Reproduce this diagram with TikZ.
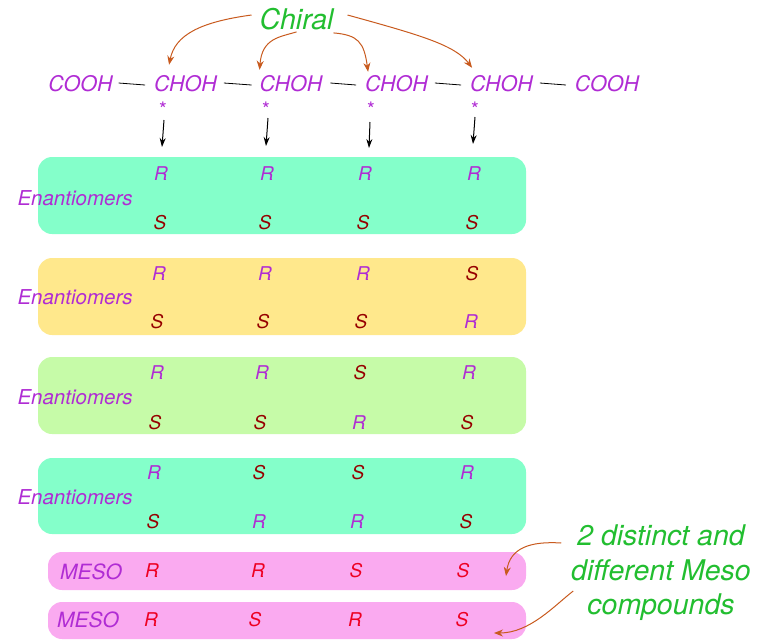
\documentclass[tikz,border=0pt]{standalone}
\usepackage{fontspec}
\setmainfont{TeX Gyre Heros}
\usetikzlibrary{arrows.meta}
\definecolor{pur}{RGB}{176,44,212}
\definecolor{dred}{RGB}{150,0,0}
\definecolor{mred}{RGB}{238,0,34}
\definecolor{grn}{RGB}{34,190,48}
\definecolor{brn}{RGB}{200,90,30}
\definecolor{aquabox}{RGB}{132,255,202}
\definecolor{yelbox}{RGB}{255,232,140}
\definecolor{lgrnbox}{RGB}{198,251,168}
\definecolor{pinkbox}{RGB}{250,170,240}
\begin{document}
\begin{tikzpicture}[x=1pt,y=-1pt,
  every node/.style={inner sep=0pt,outer sep=0pt},
  chainlbl/.style={font=\fontsize{21.5}{25}\selectfont\itshape,text=pur},
  ast/.style={font=\fontsize{20}{22}\selectfont,text=pur},
  chiral/.style={font=\fontsize{28.5}{34.5}\selectfont\itshape,text=grn,align=center},
  rowbox/.style={rectangle,rounded corners=14pt,draw=none,minimum width=488pt,minimum height=77pt},
  mesobox/.style={rectangle,rounded corners=14pt,draw=none,minimum width=478pt,minimum height=38pt},
  enlbl/.style={font=\fontsize{20.5}{24}\selectfont\itshape,text=pur},
  mesolbl/.style={font=\fontsize{21}{24}\selectfont\itshape,text=pur},
  pR/.style={font=\fontsize{19}{22}\selectfont\itshape,text=pur},
  dS/.style={font=\fontsize{19}{22}\selectfont\itshape,text=dred},
  mL/.style={font=\fontsize{19}{22}\selectfont\itshape,text=mred},
  bond/.style={draw=black,line width=0.8pt},
  blk/.style={draw=black,line width=1pt,-{Stealth[length=9pt,width=6pt]}},
  brnarr/.style={draw=brn,line width=1pt,-{Stealth[length=9pt,width=7pt]}}
]
\useasboundingbox (0,0) rectangle (770,641);

% boxes
\node[rowbox,fill=aquabox] (b1) at (282,195.5) {};
\node[rowbox,fill=yelbox] (b2) at (282,296.5) {};
\node[rowbox,fill=lgrnbox] (b3) at (282,395.5) {};
\node[rowbox,fill=aquabox,minimum height=76pt] (b4) at (282,496) {};
\node[mesobox,fill=pinkbox] (m1) at (287,571) {};
\node[mesobox,fill=pinkbox,minimum height=37pt] (m2) at (287,620.5) {};

% chain
\node[chainlbl] (c0) at (80.5,84) {COOH};
\node[chainlbl] (c1) at (185.5,84) {CHOH};
\node[chainlbl] (c2) at (291,84) {CHOH};
\node[chainlbl] (c3) at (396.5,84) {CHOH};
\node[chainlbl] (c4) at (501.5,84) {CHOH};
\node[chainlbl] (c5) at (607,84) {COOH};
\draw[bond] ([shift={(6,-1)}]c0.east) -- ([shift={(-9,1)}]c1.west);
\draw[bond] ([shift={(7,-1)}]c1.east) -- ([shift={(-8,1)}]c2.west);
\draw[bond] ([shift={(8,-1)}]c2.east) -- ([shift={(-9,1)}]c3.west);
\draw[bond] ([shift={(7,-1)}]c3.east) -- ([shift={(-9,1)}]c4.west);
\draw[bond] ([shift={(7,-1)}]c4.east) -- ([shift={(-9,1)}]c5.west);

% asterisks
\node[ast] (a1) at (163,109) {*};
\node[ast] (a2) at (266,109) {*};
\node[ast] (a3) at (371,109) {*};
\node[ast] (a4) at (475,109) {*};
\coordinate (e1) at (162,147);
\coordinate (e2) at (266,146);
\coordinate (e3) at (369,148);
\coordinate (e4) at (473,144);
\draw[blk] ([shift={(1,11)}]a1.center) -- (e1);
\draw[blk] ([shift={(2,9)}]a2.center) -- (e2);
\draw[blk] ([shift={(-1,13)}]a3.center) -- (e3);
\draw[blk] ([shift={(0,8)}]a4.center) -- (e4);

% Chiral
\node[chiral] (ch) at (296.5,19) {Chiral};
\draw[brnarr] ([shift={(-8,-4)}]ch.west) .. controls (200,22) and (175,35) .. ([shift={(15,-11)}]c1.north west);
\draw[brnarr] ([shift={(0,2)}]ch.south) .. controls (280,37) and (262,38) .. ([shift={(0,-6)}]c2.north west);
\draw[brnarr] ([shift={(0,3)}]ch.south east) .. controls (358,35) and (364,42) .. ([shift={(3,-4)}]c3.north west);
\draw[brnarr] ([shift={(14,-4)}]ch.east) .. controls (420,35) and (455,45) .. ([shift={(2,-8)}]c4.north west);

% labels
\node[enlbl] (l1) at (75,198) {Enantiomers};
\node[enlbl] (l2) at (75,297) {Enantiomers};
\node[enlbl] (l3) at (75,397) {Enantiomers};
\node[enlbl] (l4) at (75,497) {Enantiomers};
\node[mesolbl] (ml1) at (91,572) {MESO};
\node[mesolbl] (ml2) at (88,620) {MESO};

% box 1
\node[pR] (r11) at (161,174) {R};
\node[pR] (r12) at (267,174) {R};
\node[pR] (r13) at (365,174) {R};
\node[pR] (r14) at (474,174) {R};
\node[dS] (s11) at (160,223) {S};
\node[dS] (s12) at (265,223) {S};
\node[dS] (s13) at (363,223) {S};
\node[dS] (s14) at (472,223) {S};
% box 2
\node[pR] (r21) at (159,274) {R};
\node[pR] (r22) at (265,274) {R};
\node[pR] (r23) at (363,274) {R};
\node[dS] (r24) at (472,274) {S};
\node[dS] (s21) at (157,322) {S};
\node[dS] (s22) at (263,322) {S};
\node[dS] (s23) at (361,322) {S};
\node[pR] (s24) at (471,322) {R};
% box 3
\node[pR] (r31) at (157,373) {R};
\node[pR] (r32) at (262,373) {R};
\node[dS] (r33) at (360,373) {S};
\node[pR] (r34) at (469,373) {R};
\node[dS] (s31) at (155,423) {S};
\node[dS] (s32) at (260,423) {S};
\node[pR] (s33) at (359,423) {R};
\node[dS] (s34) at (467,423) {S};
% box 4
\node[pR] (r41) at (154,473) {R};
\node[dS] (r42) at (259,473) {S};
\node[dS] (r43) at (358,473) {S};
\node[pR] (r44) at (467,473) {R};
\node[dS] (s41) at (153,522) {S};
\node[pR] (s42) at (259,522) {R};
\node[pR] (s43) at (357,522) {R};
\node[dS] (s44) at (466,522) {S};
% meso
\node[mL] (x11) at (152,571) {R};
\node[mL] (x12) at (258,571) {R};
\node[mL] (x13) at (356,571) {S};
\node[mL] (x14) at (463,571) {S};
\node[mL] (x21) at (151,620) {R};
\node[mL] (x22) at (255,620) {S};
\node[mL] (x23) at (355,620) {R};
\node[mL] (x24) at (462,620) {S};

% meso note
\node[chiral] (mt) at (661,573) {2 distinct and\\different Meso\\compounds};
\coordinate (t1) at (506,576);
\coordinate (t2) at (494,633);
\draw[brnarr] ([shift={(-10,-30)}]mt.west) .. controls (530,541) and (510,548) .. (t1);
\draw[brnarr] ([shift={(2,18)}]mt.west) .. controls (555,605) and (530,633) .. (t2);
\end{tikzpicture}
\end{document}
